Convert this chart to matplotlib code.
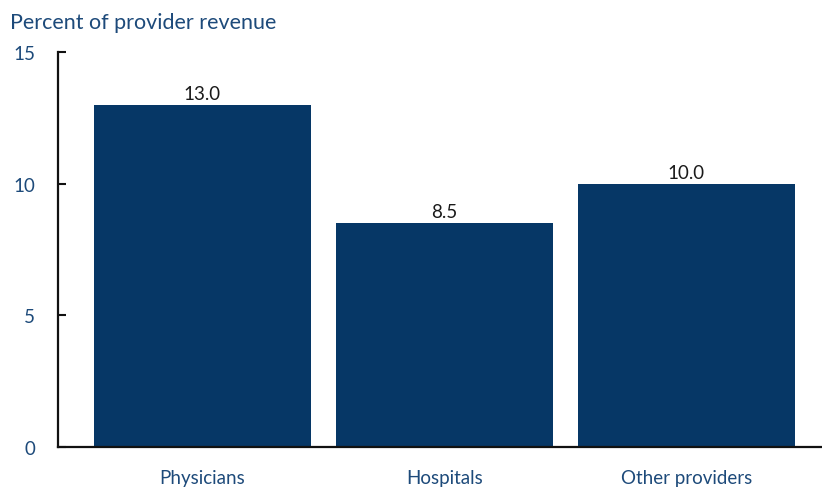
import matplotlib
matplotlib.use("Agg")
import matplotlib.pyplot as plt

categories = ["Physicians", "Hospitals", "Other providers"]
values = [13.0, 8.5, 10.0]
yticks = [0, 5, 10, 15]

bar_color = "#063766"
text_color = "#1d4a7a"

plt.rcParams['font.family'] = ['Lato', 'DejaVu Sans']

fig = plt.figure(figsize=(8.22, 4.89), dpi=100)
ax = fig.add_axes([58/822, 1-448/489, 1-58/822, (448-53)/489])

x = list(range(len(categories)))
bars = ax.bar(x, values, width=0.897, color=bar_color, zorder=2)
for xi, v in zip(x, values):
    ax.text(xi, v + 0.12, f"{v:.1f}", ha="center", va="bottom",
            fontsize=13.5, color="#1a1a1a")

ax.set_xlim(-0.597, 2.56)
ax.set_ylim(0, 15)
ax.set_yticks(yticks)
ax.set_yticklabels([str(t) for t in yticks], fontsize=13.5, color=text_color)
ax.set_xticks(x)
ax.set_xticklabels(categories, fontsize=13.5, color=text_color)

for s in ["top", "right"]:
    ax.spines[s].set_visible(False)
for s in ["left", "bottom"]:
    ax.spines[s].set_linewidth(1.6)
    ax.spines[s].set_color("#111111")
    ax.spines[s].set_zorder(3)

ax.tick_params(axis="y", direction="in", length=6, width=1.5, pad=16.5, colors="#111111", labelcolor=text_color)
ax.tick_params(axis="x", direction="in", length=4, width=1.0, pad=16, colors="#444444", labelcolor=text_color)
for t in ax.get_yticklabels():
    t.set_horizontalalignment("right")

fig.text(10/822, 1-23/489, "Percent of provider revenue", fontsize=15.5,
         color=text_color, ha="left", va="center")

fig.savefig("out.png", dpi=100)
